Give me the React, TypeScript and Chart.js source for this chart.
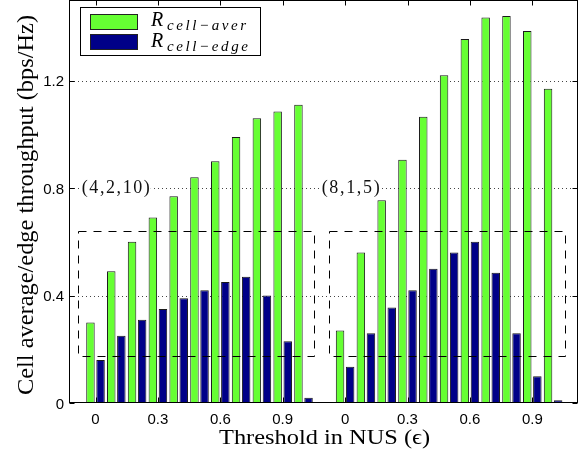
import React, { useEffect, useRef } from 'react';
import { Chart, registerables } from 'chart.js';
Chart.register(...registerables);

const thresholds = [0, 0.1, 0.2, 0.3, 0.4, 0.5, 0.6, 0.7, 0.8, 0.9, 1.0];
const groupLabels = ['(4,2,10)', '(8,1,5)'];
const groupOffsets = [0, 1.2];
const cellAver_4_2_10 = [0.30, 0.49, 0.60, 0.69, 0.77, 0.84, 0.90, 0.99, 1.06, 1.085, 1.11];
const cellEdge_4_2_10 = [0.16, 0.25, 0.31, 0.35, 0.39, 0.42, 0.45, 0.47, 0.40, 0.23, 0.02];
const cellAver_8_1_5 = [0.27, 0.56, 0.755, 0.905, 1.065, 1.22, 1.355, 1.435, 1.44, 1.385, 1.17];
const cellEdge_8_1_5 = [0.135, 0.26, 0.355, 0.42, 0.50, 0.56, 0.60, 0.485, 0.26, 0.10, 0.01];
const xTickValues = [0, 0.3, 0.6, 0.9];
const yTickValues = [0, 0.4, 0.8, 1.2];
const legendMain = 'R';
const legendSubs = ['cell\u2212aver', 'cell\u2212edge'];
const yTitle = 'Cell average/edge throughput (bps/Hz)';
const xTitle = 'Threshold in NUS (\u03f5)';

const GREEN = '#66ff33';
const BLUE = '#000088';

const pos = (g: number, t: number) => Math.round((groupOffsets[g] + t) * 10) / 10;

function drawSpaced(ctx: CanvasRenderingContext2D, text: string, x: number, y: number, width: number) {
  const chars = Array.from(text);
  const w = chars.map((c) => ctx.measureText(c).width);
  const total = w.reduce((a, b) => a + b, 0);
  const gap = chars.length > 1 ? (width - total) / (chars.length - 1) : 0;
  let cx = x;
  ctx.textAlign = 'left';
  chars.forEach((c, i) => {
    ctx.fillText(c, cx, y);
    cx += w[i] + gap;
  });
}

function fitText(ctx: CanvasRenderingContext2D, text: string, x: number, y: number, width: number) {
  const m = ctx.measureText(text).width;
  ctx.save();
  ctx.translate(x, y);
  ctx.scale(width / m, 1);
  ctx.textAlign = 'left';
  ctx.fillText(text, 0, 0);
  ctx.restore();
}

const decor = {
  id: 'decor',
  beforeDatasetsDraw(chart: any) {
    const { ctx, chartArea: a, scales } = chart;
    const y = scales.y;
    ctx.save();
    ctx.strokeStyle = '#444';
    ctx.lineWidth = 1;
    ctx.setLineDash([1, 3]);
    yTickValues.forEach((v) => {
      if (v === 0) return;
      const py = Math.round(y.getPixelForValue(v)) + 0.5;
      ctx.beginPath();
      ctx.moveTo(a.left, py);
      ctx.lineTo(a.right, py);
      ctx.stroke();
    });
    ctx.restore();
  },
  afterDatasetsDraw(chart: any) {
    const { ctx, chartArea: a, scales } = chart;
    const x = scales.x;
    const y = scales.y;
    ctx.save();
    // dashed boxes
    ctx.strokeStyle = '#000';
    ctx.lineWidth = 1;
    ctx.setLineDash([8, 7]);
    groupOffsets.forEach((off, g) => {
      const l = Math.round(x.getPixelForValue(off - (g === 0 ? 0.083 : 0.076))) + 0.5;
      const r = Math.round(x.getPixelForValue(off + (g === 0 ? 1.05 : 1.059))) + 0.5;
      const t = Math.round(y.getPixelForValue(0.64)) + 0.5;
      const b = Math.round(y.getPixelForValue(0.175)) + 0.5;
      ctx.strokeRect(l, t, r - l, b - t);
    });
    ctx.setLineDash([]);
    // group labels
    ctx.font = '18px "Liberation Serif"';
    groupOffsets.forEach((off, g) => {
      const lx = x.getPixelForValue(off - (g === 0 ? 0.066 : 0.1125));
      const ly = y.getPixelForValue(0.8);
      const w = g === 0 ? 68 : 58;
      ctx.fillStyle = '#fff';
      ctx.fillRect(lx - 1, ly - 9, w + 2, 18);
      ctx.fillStyle = '#111';
      ctx.textBaseline = 'alphabetic';
      drawSpaced(ctx, groupLabels[g], lx, ly + 5, w);
    });
    // frame
    ctx.strokeStyle = '#000';
    ctx.lineWidth = 1;
    const L = Math.round(a.left) - 0.5;
    const R = Math.round(a.right) - 0.5;
    const T = Math.round(a.top) + 0.5;
    const B = Math.round(a.bottom) - 0.5;
    ctx.strokeRect(L, T, R - L, B - T);
    // ticks inward
    ctx.beginPath();
    groupOffsets.forEach((off) => {
      xTickValues.forEach((v) => {
        const px = Math.round(x.getPixelForValue(off + v)) + 0.5;
        ctx.moveTo(px, B);
        ctx.lineTo(px, B - 5);
        ctx.moveTo(px, T);
        ctx.lineTo(px, T + 5);
      });
    });
    yTickValues.forEach((v) => {
      const py = Math.round(y.getPixelForValue(v)) + 0.5;
      ctx.moveTo(L, py);
      ctx.lineTo(L + 5, py);
      ctx.moveTo(R, py);
      ctx.lineTo(R - 5, py);
    });
    ctx.stroke();
    // tick labels
    ctx.fillStyle = '#000';
    ctx.font = '15px "Liberation Sans"';
    ctx.textBaseline = 'alphabetic';
    ctx.textAlign = 'center';
    groupOffsets.forEach((off) => {
      xTickValues.forEach((v) => {
        const px = x.getPixelForValue(off + v);
        ctx.fillText(v === 0 ? '0' : v.toFixed(1), px, 423.5);
      });
    });
    ctx.textAlign = 'right';
    yTickValues.forEach((v) => {
      const py = y.getPixelForValue(v);
      ctx.fillText(v === 0 ? '0' : v.toFixed(1), a.left - 6, py + 5.5);
    });
    // titles
    ctx.font = '22px "Liberation Serif"';
    fitText(ctx, xTitle, 219, 444, 211);
    ctx.save();
    ctx.translate(33, 395);
    ctx.rotate(-Math.PI / 2);
    ctx.font = '23px "Liberation Serif"';
    fitText(ctx, yTitle, 0, 0, 380);
    ctx.restore();
    // legend
    ctx.fillStyle = '#fff';
    ctx.fillRect(80, 7, 180, 48);
    ctx.strokeStyle = '#000';
    ctx.strokeRect(80.5, 7.5, 180, 48);
    const colors = [GREEN, BLUE];
    const rows = [{ sy: 14, rb: 26, sb: 30 }, { sy: 34, rb: 46.5, sb: 50.5 }];
    rows.forEach((r, i) => {
      ctx.fillStyle = colors[i];
      ctx.fillRect(90, r.sy, 48, 16);
      ctx.strokeStyle = '#222';
      ctx.strokeRect(90.5, r.sy + 0.5, 47, 15);
      ctx.fillStyle = '#000';
      ctx.font = 'italic 20px "Liberation Serif"';
      ctx.textAlign = 'left';
      ctx.fillText(legendMain, 151, r.rb);
      ctx.font = 'italic 15px "Liberation Serif"';
      drawSpaced(ctx, legendSubs[i], 167, r.sb, i === 0 ? 79 : 81);
    });
    ctx.restore();
  },
};

export default function App() {
  const ref = useRef<HTMLCanvasElement>(null);
  useEffect(() => {
    if (!ref.current) return;
    const mk = (arrA: number[], arrB: number[]) =>
      thresholds.map((t, i) => ({ x: pos(0, t), y: arrA[i] })).concat(thresholds.map((t, i) => ({ x: pos(1, t), y: arrB[i] })));
    const chart = new Chart(ref.current, {
      type: 'bar',
      data: {
        datasets: [
          {
            label: 'R cell-aver',
            data: mk(cellAver_4_2_10, cellAver_8_1_5),
            backgroundColor: GREEN,
            borderColor: '#1a1a1a',
            borderWidth: 1,
            categoryPercentage: 0.97,
            barPercentage: 0.84,
          },
          {
            label: 'R cell-edge',
            data: mk(cellEdge_4_2_10, cellEdge_8_1_5),
            backgroundColor: BLUE,
            borderColor: '#1a1a1a',
            borderWidth: 1,
            categoryPercentage: 0.97,
            barPercentage: 0.84,
          },
        ] as any,
      },
      options: {
        animation: false,
        responsive: false,
        devicePixelRatio: 1,
        layout: { padding: { top: 0, right: 3, left: 0, bottom: 0 } },
        plugins: { legend: { display: false }, tooltip: { enabled: false } },
        scales: {
          x: {
            type: 'linear',
            offset: false,
            min: -0.1226,
            max: 2.3197,
            grid: { display: false },
            border: { display: false },
            ticks: { display: false },
            afterFit: (s: any) => {
              s.height = 50;
            },
          },
          y: {
            min: 0,
            max: 1.5,
            grid: { display: false },
            border: { display: false },
            ticks: { display: false },
            afterFit: (s: any) => {
              s.width = 70;
            },
          },
        },
      } as any,
      plugins: [decor],
    });
    return () => chart.destroy();
  }, []);
  return (
    <div style={{ position: 'absolute', left: 0, top: 0, width: 581, height: 453, background: '#fff' }}>
      <canvas ref={ref} width={581} height={453} style={{ display: 'block' }} />
    </div>
  );
}
